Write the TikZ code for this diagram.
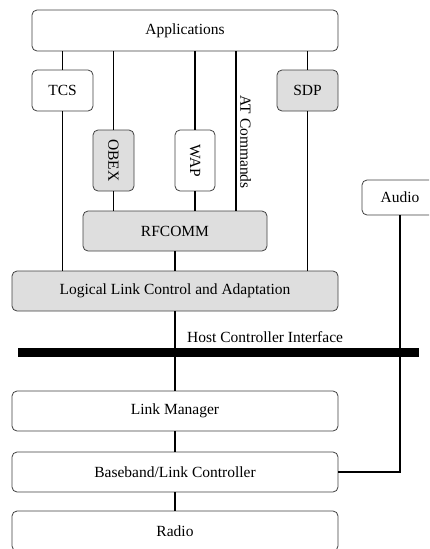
\documentclass[tikz,border=0pt]{standalone}
\usepackage{fontspec}
\setmainfont{Liberation Serif}
\begin{document}
\begin{tikzpicture}[x=1pt,y=-1pt,
  layer/.style={draw=black!75,line width=0.8pt,rounded corners=5pt,fill=white,
    inner sep=0pt,font=\fontsize{15.5}{18}\selectfont},
  shaded/.style={layer,fill=black!13},
  wire/.style={line width=1.4pt,black}]
\useasboundingbox (0,0) rectangle (429,549);
\clip (0,0) rectangle (429,549);

% protocol stack boxes
\node[layer,minimum width=306pt,minimum height=41pt] (app) at (185,30.5) {Applications};
\node[layer,minimum width=61pt,minimum height=41pt] (tcs) at (62.5,90.5) {TCS};
\node[shaded,minimum width=61pt,minimum height=41pt] (sdp) at (307.5,90.5) {SDP};
\node[shaded,minimum width=41pt,minimum height=61pt] (obex) at (113.5,160.5) {\rotatebox{-90}{OBEX}};
\node[layer,minimum width=40pt,minimum height=61pt] (wap) at (195,160.5) {\rotatebox{-90}{WAP}};
\node[shaded,minimum width=184pt,minimum height=40pt] (rfcomm) at (175,231) {RFCOMM};
\node[shaded,minimum width=326pt,minimum height=40pt] (l2cap) at (175,291) {Logical Link Control and Adaptation};
\node[layer,minimum width=76pt,minimum height=35pt] (audio) at (400,197.5) {Audio};

% host controller interface bar
\node[fill=black,minimum width=401pt,minimum height=9pt,inner sep=0pt] (hci) at (218.5,352.5) {};
\node[anchor=base west,inner sep=0pt,font=\fontsize{15.5}{18}\selectfont] (hcilabel) at (187,342) {Host Controller Interface};

\node[layer,minimum width=326pt,minimum height=40pt] (lm) at (175,411) {Link Manager};
\node[layer,minimum width=326pt,minimum height=40pt] (bb) at (175,472) {Baseband/Link Controller};
\node[layer,minimum width=326pt,minimum height=40pt] (radio) at (175,531) {Radio};

% AT commands label beside its line
\coordinate (atx) at (236,0);
\node[anchor=north west,inner sep=0pt,font=\fontsize{15.5}{18}\selectfont] (atlabel) at (240,95) {\rotatebox{-90}{AT Commands}};

% connectors
\draw[wire] (app.south -| tcs) -- (tcs.north);
\draw[wire] (tcs.south) -- (l2cap.north -| tcs);
\draw[wire] (app.south -| obex) -- (obex.north);
\draw[wire] (obex.south) -- (rfcomm.north -| obex);
\draw[wire] (app.south -| wap) -- (wap.north);
\draw[wire] (wap.south) -- (rfcomm.north -| wap);
\draw[wire] (app.south -| atx) -- (rfcomm.north -| atx);
\draw[wire] (app.south -| sdp) -- (sdp.north);
\draw[wire] (sdp.south) -- (l2cap.north -| sdp);
\draw[wire] (rfcomm.south) -- (l2cap.north);
\draw[wire] (l2cap.south) -- (hci.north -| l2cap);
\draw[wire] (hci.south -| lm) -- (lm.north);
\draw[wire] (lm.south) -- (bb.north);
\draw[wire] (bb.south) -- (radio.north);
\draw[wire] (audio.south) |- (bb.east);
\end{tikzpicture}
\end{document}
